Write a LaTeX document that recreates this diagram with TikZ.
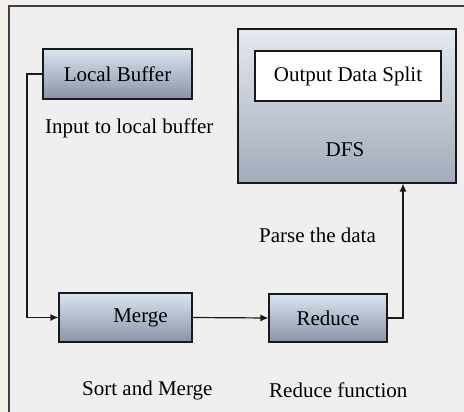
\documentclass[tikz,border=0pt]{standalone}
\usepackage{fontspec}
\setmainfont{Liberation Serif}
\usetikzlibrary{arrows.meta}
\definecolor{bgtop}{HTML}{F3EFEA}
\definecolor{panel}{HTML}{EFEFEF}
\definecolor{boxtop}{HTML}{DAE5F2}
\definecolor{boxbot}{HTML}{8894A6}
\definecolor{dfstop}{HTML}{E4E9F0}
\definecolor{dfsbot}{HTML}{A2ACBA}
\tikzset{
  procbox/.style={draw=black!90, line width=1.1pt, top color=boxtop, bottom color=boxbot, font=\fontsize{21}{24}\selectfont, inner sep=0pt},
  lbl/.style={font=\fontsize{21}{24}\selectfont, inner sep=0pt},
  conn/.style={draw=black!90, line width=1.2pt},
  arr/.style={conn, -{Latex[length=8pt,width=7pt]}}
}
\begin{document}
\begin{tikzpicture}[x=1pt,y=-1pt]
\useasboundingbox (0,0) rectangle (464,412);
\fill[bgtop] (0,0) rectangle (464,412);
\fill[panel] (9,6) rectangle (464,412);
\draw[black!75, line width=1.2pt] (464,6) -- (9,6) -- (9,412);
% DFS box
\node[draw=black!90, line width=1.1pt, top color=dfstop, bottom color=dfsbot, minimum width=218pt, minimum height=154pt, inner sep=0pt] (dfs) at (347,106) {};
\node[draw=black!90, line width=1.1pt, fill=white, minimum width=186pt, minimum height=50pt, inner sep=0pt, font=\fontsize{21}{24}\selectfont] (ods) at (348,76) {Output Data Split};
\node[lbl] (dfslbl) at (345,150) {DFS};
% process boxes
\node[procbox, minimum width=149pt, minimum height=50pt] (lb) at (117.5,74) {Local Buffer};
\node[procbox, minimum width=133pt, minimum height=49pt] (mg) at (125.5,317.5) {\hspace*{30pt}Merge};
\node[procbox, minimum width=118pt, minimum height=48pt] (rd) at (328,318) {Reduce};
% labels
\node[lbl, anchor=west] (l1) at (45,128) {Input to local buffer};
\node[lbl, anchor=west] (l2) at (259,235) {Parse the data};
\node[lbl, anchor=west] (l3) at (82,390) {Sort and Merge};
\node[lbl, anchor=west] (l4) at (269,390) {Reduce function};
% connectors
\draw[arr] (lb.west) -- (27,74) -- (27,317.5) -- (mg.west);
\draw[arr] (mg.east) -- (rd.west);
\draw[arr] (rd.east) -- (403,318) -- (dfs.south -| 403,0);
\end{tikzpicture}
\end{document}
